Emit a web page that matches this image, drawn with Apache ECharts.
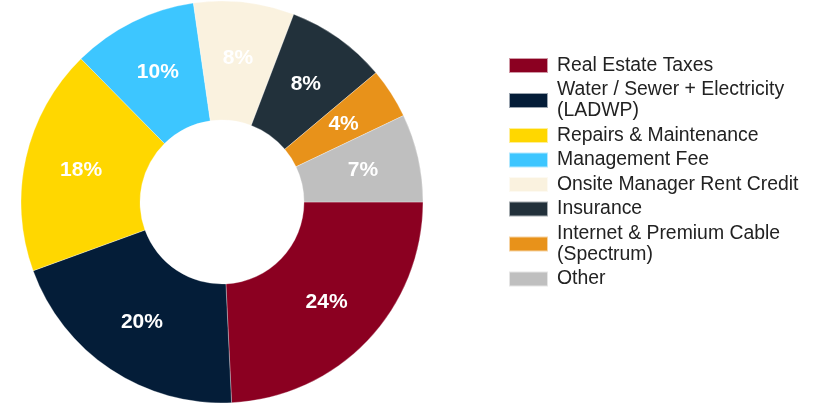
<!DOCTYPE html>
<html>
<head>
<meta charset="utf-8">
<script src="https://cdn.jsdelivr.net/npm/echarts@6/dist/echarts.min.js"></script>
<style>
  html, body { margin: 0; padding: 0; background: #fff; }
  #chart { width: 819px; height: 409px; }
</style>
</head>
<body>
<div id="chart"></div>
<script>
// Operating expense breakdown (share of total, %)
const categories = [
  'Real Estate Taxes',
  'Water / Sewer + Electricity (LADWP)',
  'Repairs & Maintenance',
  'Management Fee',
  'Onsite Manager Rent Credit',
  'Insurance',
  'Internet & Premium Cable (Spectrum)',
  'Other'
];
const shares = [24, 20, 18, 10, 8, 8, 4, 7];
const colors = ['#8B0021', '#041D38', '#FFD700', '#3DC6FF', '#FAF2DF', '#22313B', '#E8921A', '#BFBFBF'];

// Legend names that wrap onto two lines
const legendText = {
  'Water / Sewer + Electricity (LADWP)': 'Water / Sewer + Electricity\n(LADWP)',
  'Internet & Premium Cable (Spectrum)': 'Internet & Premium Cable\n(Spectrum)'
};

const chart = echarts.init(document.getElementById('chart'));
chart.setOption({
  animation: false,
  color: colors,
  legend: {
    orient: 'vertical',
    left: 508,
    top: 55,
    padding: 0,
    itemWidth: 39,
    itemHeight: 15,
    itemGap: 3.5,
    icon: 'rect',
    selectedMode: false,
    formatter: name => legendText[name] || name,
    textStyle: {
      fontFamily: 'Liberation Sans, Arial, sans-serif',
      fontSize: 19.4,
      lineHeight: 21,
      color: '#222',
      padding: [0, 0, 0, 4]
    },
    data: categories
  },
  series: [{
    type: 'pie',
    center: [222, 202],
    radius: [82, 201],
    startAngle: 0,
    clockwise: true,
    avoidLabelOverlap: false,
    itemStyle: { borderColor: 'rgba(255,255,255,0.6)', borderWidth: 0.5 },
    label: {
      show: true,
      position: 'inside',
      formatter: '{c}%',
      color: '#fff',
      fontFamily: 'Liberation Sans, Arial, sans-serif',
      fontWeight: 'bold',
      fontSize: 21
    },
    labelLine: { show: false },
    emphasis: { disabled: true },
    data: categories.map((name, i) => ({ name, value: shares[i] }))
  }]
});
</script>
</body>
</html>
